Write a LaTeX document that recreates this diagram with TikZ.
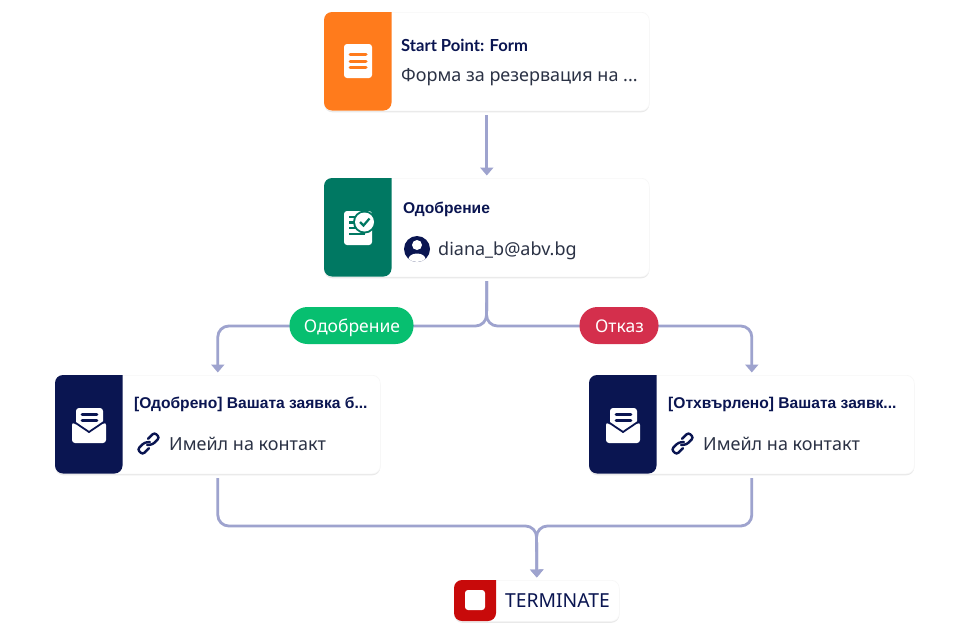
\documentclass[tikz,border=0pt]{standalone}
\usepackage{fontspec}
\setmainfont{Noto Sans}
\newfontfamily\titlefont[BoldFont={Lato Bold}]{Lato}
\newfontfamily\cardfont{Liberation Sans}
\usetikzlibrary{arrows.meta,shadows}
\definecolor{navy}{HTML}{0A1551}
\definecolor{bodytext}{HTML}{2B3245}
\definecolor{flowblue}{HTML}{9EA3CE}
\definecolor{formorange}{HTML}{FF7B1C}
\definecolor{approvegreen}{HTML}{007862}
\definecolor{stopred}{HTML}{C80A0A}
\definecolor{pillgreen}{HTML}{07BF70}
\definecolor{pillred}{HTML}{D42F4C}
\tikzset{
  cardbox/.style={fill=white,draw=black!3,line width=.6pt,rounded corners=8pt,drop shadow={shadow xshift=0pt,shadow yshift=-1.5pt,opacity=.14,fill=black!60}},
  flowline/.style={draw=flowblue,line width=2.8pt,rounded corners=11pt,shorten <=4pt,shorten >=2.5pt,-{Triangle[length=8pt,width=13pt]}},
  titletext/.style={anchor=base west,text=navy,inner sep=0pt,font=\cardfont\fontsize{15.6}{16}\selectfont\bfseries},
  bodyline/.style={anchor=base west,text=bodytext,inner sep=0pt,font=\fontsize{18}{18}\selectfont},
  pill/.style={rounded corners=18pt,minimum height=37pt,inner sep=0pt},
  pilltext/.style={anchor=base,text=white,inner sep=0pt,font=\fontsize{17.5}{18}\selectfont},
  linkstroke/.style={navy,line width=2.4pt,line cap=round,rounded corners=2.6pt},
}
\begin{document}
\begin{tikzpicture}[x=1pt,y=-1pt]
  \useasboundingbox[fill=white] (0,0) rectangle (968,633);
  % cards
  \foreach \name/\x/\y/\col in {form/324/12/formorange, approval/324/178/approvegreen, mailok/55/375/navy, mailno/589/375/navy} {
    \node[cardbox,minimum width=325pt,minimum height=98.5pt,inner sep=0pt,anchor=north west] (\name) at (\x,\y) {};
    \fill[\col,rounded corners=8pt] (\x+67.5,\y) -- (\x,\y) -- (\x,\y+98.5) -- (\x+67.5,\y+98.5) [sharp corners] -- cycle;
  }
  \node[cardbox,minimum width=165pt,minimum height=41pt,inner sep=0pt,anchor=north west] (terminate) at (454,580) {};
  \fill[stopred,rounded corners=8pt] (496,580) -- (454,580) -- (454,621) -- (496,621) [sharp corners] -- cycle;
  \fill[white,rounded corners=3pt] (465,590) rectangle (485,610);
  % connectors
  \coordinate (split) at (486.5,326);
  \coordinate (merge) at (536.5,526);
  \draw[flowline] (form.south) -- (approval.north);
  \draw[flowline] (approval.south) -- (split) -| (mailok.north);
  \draw[flowline] (approval.south) -- (split) -| (mailno.north);
  \draw[flowline] (mailok.south) |- (merge) -- (terminate.north);
  \draw[flowline] (mailno.south) |- (merge) -- (terminate.north);
  \node[pill,fill=pillgreen,minimum width=124pt] (pillyes) at (351.5,325.5) {};
  \node[pill,fill=pillred,minimum width=79pt] (pillno) at (619,325.5) {};
  \node[pilltext] (pillyestext) at (352,332) {Одобрение};
  \node[pilltext] (pillnotext) at (619.5,332) {Отказ};
  % texts
  \node[titletext] (formtitle) at (401,51) {\titlefont\fontsize{16.6}{17}\selectfont Start Point: Form};
  \node[bodyline] (formbody) at (401,81.5) {Форма за резервация на ...};
  \node[titletext] (approvaltitle) at (403,213) {Одобрение};
  \node[bodyline] (approvalbody) at (438,255) {diana\_b@abv.bg};
  \node[titletext] (mailoktitle) at (134,408) {[Одобрено] Вашата заявка б...};
  \node[bodyline] (mailokbody) at (169,450.5) {Имейл на контакт};
  \node[titletext] (mailnotitle) at (668,408) {[Отхвърлено] Вашата заявк...};
  \node[bodyline] (mailnobody) at (703,450.5) {Имейл на контакт};
  \node[anchor=base west,text=navy,inner sep=0pt,font=\fontsize{19.3}{20}\selectfont] (terminatetext) at (505,607.7) {TERMINATE};
  % form icon
  \fill[white,rounded corners=3pt] (344,44) rectangle (372,78);
  \foreach \y in {54.5,61,67.5}
    \draw[formorange,line width=3pt,line cap=round] (350,\y) -- (366,\y);
  % approval icon
  \fill[white,rounded corners=3pt] (344,211) rectangle (372,245);
  \foreach \y/\e in {217/356,222.5/354,228/356,234/365}
    \draw[approvegreen,line width=2.2pt] (349,\y) -- (\e,\y);
  \fill[approvegreen] (364.5,222) circle (11.5);
  \fill[white] (364.5,222) circle (9.5);
  \draw[approvegreen,line width=2.2pt] (360,222) -- (363.5,225.5) -- (369.5,218.5);
  % mail icons
  \foreach \dx in {0,534} {
    \begin{scope}[xshift=\dx pt]
      \fill[white,rounded corners=3pt] (76,408) rectangle (103,432);
      \draw[navy,line width=2.8pt,line cap=round] (82,414.5) -- (97,414.5) (82,420.5) -- (97,420.5);
      \fill[white,rounded corners=3pt] (72,422) -- (89,433) -- (106,422) -- (106,443) -- (72,443) -- cycle;
      \draw[navy,line width=1.8pt] (72,420.5) -- (89,432) -- (106,420.5);
      \begin{scope}[shift={(148.5,443.5)},y=1pt,rotate=45]
        \draw[linkstroke] (3,3.6) -- (12,3.6) -- (12,-3.6) -- (2,-3.6) -- (-2,0);
        \draw[linkstroke] (-3,-3.6) -- (-12,-3.6) -- (-12,3.6) -- (-2,3.6) -- (2,0);
      \end{scope}
    \end{scope}
  }
  % person icon
  \fill[navy] (417,249) circle (13);
  \fill[white] (417,245) circle (5);
  \begin{scope}
    \clip (417,249) circle (13);
    \fill[white] (417,259) ellipse (8.5 and 5.5);
  \end{scope}
\end{tikzpicture}
\end{document}
